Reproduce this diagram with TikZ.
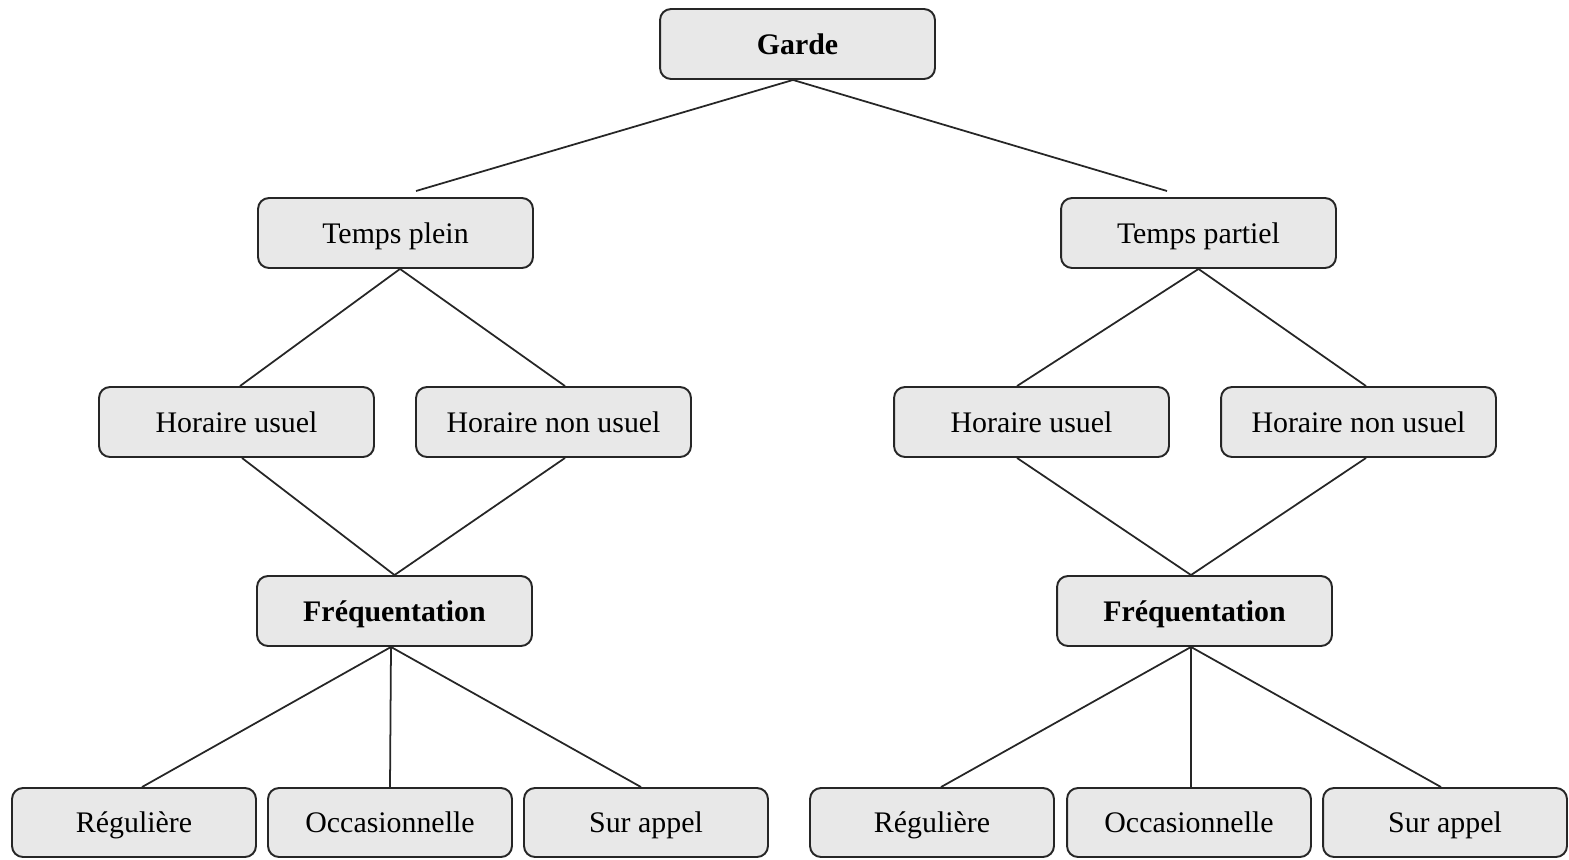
\documentclass[tikz,border=0pt]{standalone}
\usepackage{fontspec}
\setmainfont{Liberation Serif}
\usepackage{tikz}

\begin{document}
\begin{tikzpicture}[x=0.02cm,y=-0.02cm,
  case/.style={draw=black!85,fill=black!9,rounded corners=0.22cm,line width=1.1pt,
    minimum width=5.5cm,minimum height=1.4cm,inner sep=0pt,text height=11.4pt,text depth=0pt,
    font=\fontsize{17}{20}\selectfont},
  feuille/.style={case,minimum width=4.88cm,minimum height=1.38cm},
  ligne/.style={black!85,line width=1pt}]
  \useasboundingbox (0,0) rectangle (1569,859);
  % niveaux
  \node (garde) at (797.5,44) [case]{\textbf{Garde}};
  \node (tplein) at (395.5,233) [case]{Temps plein};
  \node (tpart) at (1198.5,233) [case]{Temps partiel};
  \node (huL) at (236.5,422) [case]{Horaire usuel};
  \node (hnuL) at (553.5,422) [case]{Horaire non usuel};
  \node (huR) at (1031.5,422) [case]{Horaire usuel};
  \node (hnuR) at (1358.5,422) [case]{Horaire non usuel};
  \node (freqL) at (394.5,611) [case]{\textbf{Fréquentation}};
  \node (freqR) at (1194.5,611) [case]{\textbf{Fréquentation}};
  \node (regL) at (134,822.5) [feuille]{Régulière};
  \node (occL) at (390,822.5) [feuille]{Occasionnelle};
  \node (surL) at (646,822.5) [feuille]{Sur appel};
  \node (regR) at (932,822.5) [feuille]{Régulière};
  \node (occR) at (1189,822.5) [feuille]{Occasionnelle};
  \node (surR) at (1445,822.5) [feuille]{Sur appel};
  \coordinate (tplein-in) at (416,191);
  \coordinate (tpart-in) at (1167,191);
  % liens
  \draw [ligne] ([xshift=-0.09cm]garde.south) -- (tplein-in);
  \draw [ligne] ([xshift=-0.09cm]garde.south) -- (tpart-in);
  \draw [ligne] ([xshift=0.09cm]tplein.south) -- ([xshift=0.07cm]huL.north);
  \draw [ligne] ([xshift=0.09cm]tplein.south) -- ([xshift=0.23cm]hnuL.north);
  \draw [ligne] ([xshift=0.11cm]huL.south) -- (freqL.north);
  \draw [ligne] ([xshift=0.23cm]hnuL.south) -- (freqL.north);
  \draw [ligne] (tpart.south) -- ([xshift=-0.29cm]huR.north);
  \draw [ligne] (tpart.south) -- ([xshift=0.15cm]hnuR.north);
  \draw [ligne] ([xshift=-0.29cm]huR.south) -- ([xshift=-0.07cm]freqR.north);
  \draw [ligne] ([xshift=0.15cm]hnuR.south) -- ([xshift=-0.07cm]freqR.north);
  \draw [ligne] ([xshift=-0.07cm]freqL.south) -- ([xshift=0.16cm]regL.north);
  \draw [ligne] ([xshift=-0.07cm]freqL.south) -- (occL.north);
  \draw [ligne] ([xshift=-0.07cm]freqL.south) -- ([xshift=-0.1cm]surL.north);
  \draw [ligne] ([xshift=-0.07cm]freqR.south) -- ([xshift=0.18cm]regR.north);
  \draw [ligne] ([xshift=-0.07cm]freqR.south) -- ([xshift=0.04cm]occR.north);
  \draw [ligne] ([xshift=-0.07cm]freqR.south) -- ([xshift=-0.08cm]surR.north);
\end{tikzpicture}
\end{document}
